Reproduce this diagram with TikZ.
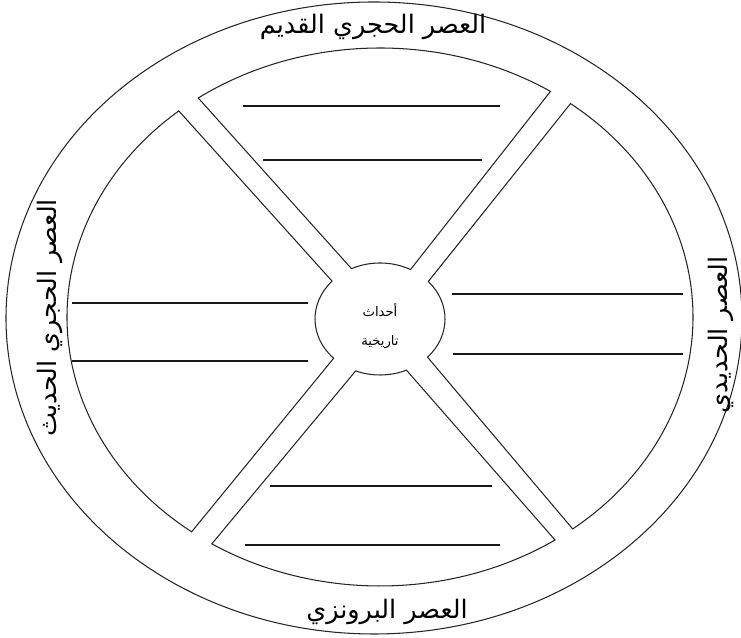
\documentclass[tikz,border=0pt]{standalone}
\usepackage{fontspec}
\newfontfamily\arabicfont[Script=Arabic]{DejaVu Sans}
\TeXXeTstate=1
\usetikzlibrary{calc}

\begin{document}
\begin{tikzpicture}[x = 0.02cm, y = 0.02cm,
        rim/.style = {line width = 0.6pt, black!85},
        wline/.style = {line width = 0.8pt, black!90},
        era/.style = {font = \arabicfont\fontsize{14.5}{16}\selectfont, inner sep = 0pt}]
    \useasboundingbox (0, 0) rectangle (741, 638);
    \coordinate (outc) at (374, 320);
    \coordinate (inc) at (380, 321);
    \coordinate (evc) at (380, 319);
    \draw[rim] (outc) ellipse [x radius = 368, y radius = 316];
    % sectors: circle angle / ellipse start / ellipse end / circle angle
    \foreach \a/\b/\c/\d in {62/57/125.5/116, -43/-52/52.5/42, 248/237.5/304/294, 137.5/130/233/224.5}{
        \draw[rim] ($(evc) + (\a:65 and 56)$) -- ($(inc) + (\b:313 and 269)$)
            arc [start angle = \b, end angle = \c, x radius = 313, y radius = 269]
            -- ($(evc) + (\d:65 and 56)$)
            arc [start angle = \d, end angle = \a, x radius = 65, y radius = 56] -- cycle;
    }
    % lines to write on
    \foreach \y/\xa/\xb in {532/243/500, 478/263/482, 335/72/308, 277/72/308,
                            344/452/683, 284/453/683, 152/270/492, 93/245/500}{
        \draw[wline] (\xa, \y) -- (\xb, \y);
    }
    \node[align = center, font = \arabicfont\fontsize{7.5}{16}\selectfont] (events) at (380, 312)
        {\beginR أحداث\endR\\\beginR تاريخية\endR};
    \node[era] (old) at (373, 611) {\beginR العصر الحجري القديم\endR};
    \node[era] (bronze) at (387, 26) {\beginR العصر البرونزي\endR};
    \node[era, rotate = 90] (neo) at (50, 320) {\beginR العصر الحجري الحديث\endR};
    \node[era, rotate = 90] (iron) at (721, 303) {\beginR العصر الحديدي\endR};
\end{tikzpicture}
\end{document}
